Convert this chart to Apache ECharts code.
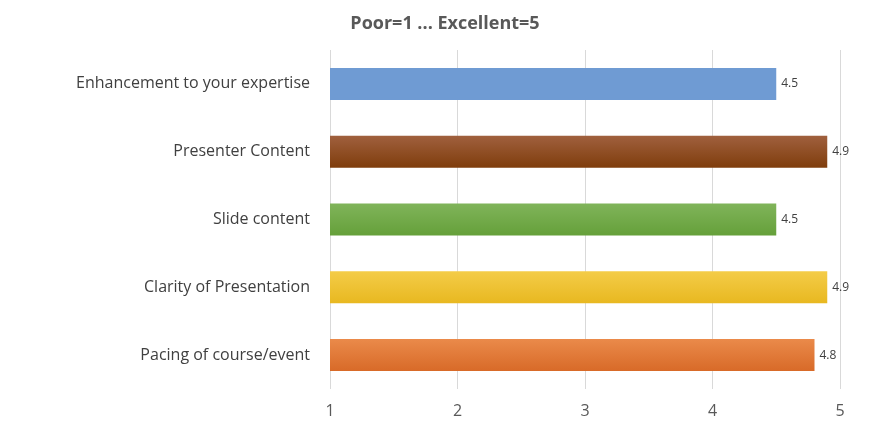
<!DOCTYPE html>
<html><head><meta charset="utf-8">
<script src="https://cdn.jsdelivr.net/npm/echarts@6/dist/echarts.min.js"></script>
<style>html,body{margin:0;padding:0;background:#fff}#c{width:882px;height:431px}</style>
</head><body><div id="c"></div>
<script>
const categories = ["Enhancement to your expertise","Presenter Content","Slide content","Clarity of Presentation","Pacing of course/event"];
const values = [4.5, 4.9, 4.5, 4.9, 4.8];
const xTicks = [1, 2, 3, 4, 5];
const colors = [
  ["#6f9bd3","#6f9bd3"],
  ["#a0603e","#7f3d0c"],
  ["#80b45a","#65a03a"],
  ["#f4cc48","#e8b820"],
  ["#ea8a4a","#d86a28"]
];
const chart = echarts.init(document.getElementById('c'));
chart.setOption({
  animation:false,
  title:{text:"Poor=1 ... Excellent=5",left:440,top:10,textAlign:'center',
    textStyle:{fontFamily:'Open Sans',fontSize:18,fontWeight:'bold',color:'#595959'}},
  grid:{left:330,right:42,top:50,bottom:42,containLabel:false},
  xAxis:{type:'value',min:xTicks[0],max:xTicks[xTicks.length-1],interval:1,
    axisLine:{show:false},axisTick:{show:false},
    splitLine:{lineStyle:{color:'#d9d9d9'}},
    axisLabel:{color:'#595959',fontSize:16,fontFamily:'Open Sans',margin:14}},
  yAxis:{type:'category',inverse:true,data:categories,
    axisLine:{show:false},axisTick:{show:false},
    axisLabel:{color:'#404040',fontSize:16,fontFamily:'Open Sans',margin:20}},
  series:[{type:'bar',barWidth:32,
    data:values.map((v,i)=>({value:v,itemStyle:{color:new echarts.graphic.LinearGradient(0,0,0,1,[{offset:0,color:colors[i][0]},{offset:1,color:colors[i][1]}])}})),
    label:{show:true,position:'right',distance:5,color:'#404040',fontSize:12,fontFamily:'Open Sans'}}]
});
</script></body></html>
